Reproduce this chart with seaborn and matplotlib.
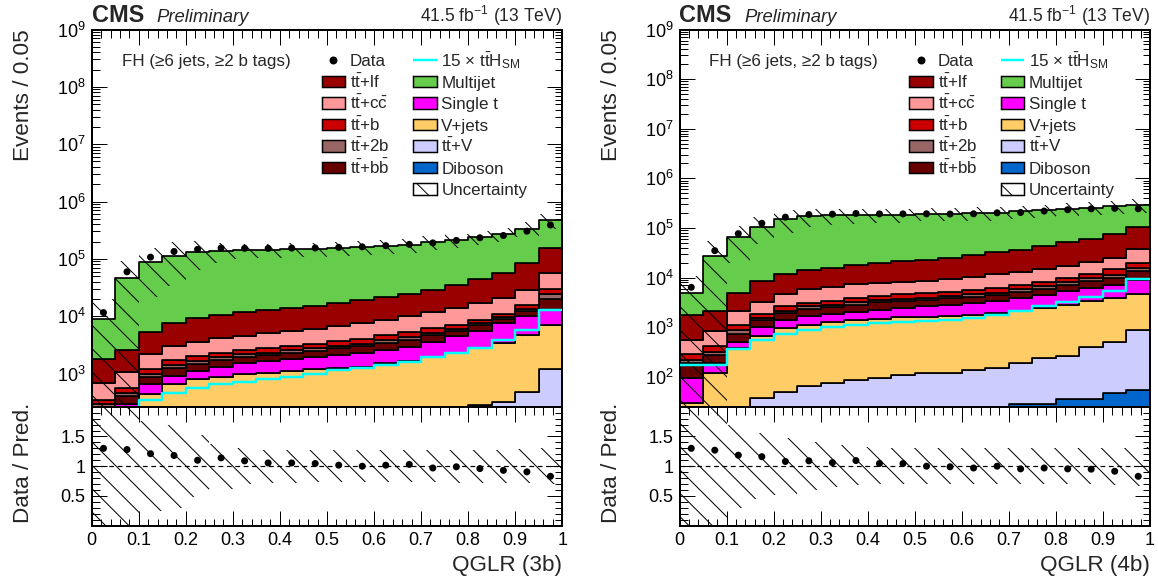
import numpy as np
import pandas as pd
import matplotlib
matplotlib.use("Agg")
import matplotlib.pyplot as plt
import seaborn as sns
from matplotlib.patches import Rectangle
from matplotlib.ticker import (FixedLocator, LogLocator, NullFormatter,
                               FuncFormatter, MultipleLocator)

# ---------------------------------------------------------------- data
bin_edges = [0.00, 0.05, 0.10, 0.15, 0.20, 0.25, 0.30, 0.35, 0.40, 0.45, 0.50,
             0.55, 0.60, 0.65, 0.70, 0.75, 0.80, 0.85, 0.90, 0.95, 1.00]

# ---- 3b category (events per bin)
multijet_3b = [7130, 43820, 83220, 106420, 123860, 125700, 128300, 131000, 132100, 132700,
               139000, 142500, 145300, 149200, 166800, 176800, 199300, 217900, 250300, 313000]
ttlf_3b = [1097, 1504, 3110, 4550, 5530, 6160, 7100, 7930, 8330, 9340,
           10190, 11920, 13020, 14870, 17500, 21300, 26700, 36300, 57300, 99900]
ttcc_3b = [330, 513, 970, 1300, 1580, 1820, 2020, 2300, 2540, 2660,
           3150, 3550, 4070, 4730, 5500, 6810, 8320, 9900, 12500, 26800]
ttb_3b = [53, 102, 200, 340, 374, 400, 420, 450, 490, 550,
          620, 710, 810, 900, 1020, 1020, 1160, 1240, 2300, 5500]
tt2b_3b = [40, 58, 120, 157, 176, 190, 210, 220, 240, 260,
           290, 340, 390, 430, 500, 520, 590, 620, 1150, 4850]
ttbb_3b = [120, 113, 234, 329, 370, 410, 440, 470, 530, 570,
           640, 720, 820, 920, 1070, 1120, 1300, 1460, 2520, 7050]
singlet_3b = [90, 170, 209, 249, 320, 440, 540, 600, 650, 720,
              850, 940, 1080, 1270, 1690, 2170, 2860, 4190, 5200, 5820]
vjets_3b = [30, 100, 407, 615, 740, 820, 900, 950, 1030, 1100,
            1145, 1190, 1360, 1505, 1720, 2020, 2490, 3070, 4250, 5900]
ttv_3b = [9, 19, 29, 39, 49, 58, 68, 78, 87, 97,
          111, 125, 144, 168, 192, 230, 268, 305, 460, 1150]
diboson_3b = [1, 1, 1, 1, 1, 2, 2, 2, 3, 3, 4, 5, 6, 7, 8, 10, 12, 15, 20, 30]
data_3b = [11570, 59390, 107100, 134500, 146300, 155000, 152600, 151900, 154000, 154700,
           158700, 162000, 169800, 179200, 190100, 209900, 233300, 255800, 304100, 390100]
tth15_3b = [100, 180, 343, 460, 550, 655, 720, 790, 880, 980,
            1150, 1230, 1410, 1610, 1920, 2260, 2840, 3770, 5800, 12600]
unc_3b = [1.2, 1.0, 0.76, 0.7, 0.52, 0.38, 0.3, 0.28, 0.28, 0.27,
          0.27, 0.27, 0.27, 0.27, 0.27, 0.28, 0.28, 0.28, 0.29, 0.30]

# ---- 4b category (events per bin)
multijet_4b = [3100, 25410, 59860, 98470, 141350, 156740, 163100, 161250, 164500, 162300,
               170200, 167600, 170600, 169900, 179200, 183500, 192700, 196100, 196200, 191000]
ttlf_4b = [1260, 1243, 2850, 5340, 7080, 8300, 9360, 10450, 11610, 13500,
           14100, 15900, 18000, 20500, 22800, 27800, 34100, 39100, 50400, 65400]
ttcc_4b = [248, 427, 970, 1310, 1920, 2870, 3090, 3510, 3660, 3630,
           3910, 4330, 4800, 5550, 5920, 6430, 7230, 8780, 10700, 17600]
ttb_4b = [73, 98, 232, 350, 490, 440, 590, 600, 720, 840,
          860, 920, 1010, 1090, 1270, 1590, 1860, 2360, 3200, 4500]
tt2b_4b = [25, 46, 151, 155, 220, 310, 290, 330, 320, 390,
           410, 450, 480, 510, 610, 750, 900, 1110, 1520, 2000]
ttbb_4b = [101, 90, 223, 365, 520, 630, 690, 800, 930, 890,
           870, 940, 1020, 1110, 1290, 1570, 1870, 2310, 3020, 4500]
singlet_4b = [63, 65, 137, 360, 460, 590, 630, 685, 800, 870,
              1070, 1200, 1350, 1400, 1750, 1910, 2480, 2900, 3050, 4400]
vjets_4b = [26, 113, 355, 612, 910, 1055, 1174, 1287, 1367, 1472,
            1463, 1539, 1603, 1792, 1973, 2214, 2597, 2932, 3396, 3712]
ttv_4b = [3, 7, 21, 36, 48, 62, 73, 84, 89, 103,
          111, 114, 129, 138, 159, 207, 228, 373, 466, 834]
diboson_4b = [1, 1, 1, 2, 2, 3, 3, 4, 4, 5, 6, 7, 8, 10, 28, 29, 35, 35, 48, 54]
data_4b = [6370, 34900, 76800, 124100, 165200, 186400, 189700, 196000, 192300, 192300,
           193000, 191100, 193000, 202000, 205300, 219200, 233000, 243200, 248900, 244000]
tth15_4b = [170, 170, 365, 556, 737, 888, 1010, 1120, 1210, 1280,
            1330, 1420, 1530, 1790, 2090, 2650, 3190, 4040, 5340, 9500]
unc_4b = [1.2, 1.0, 0.7, 0.55, 0.48, 0.4, 0.35, 0.32, 0.3, 0.3,
          0.3, 0.3, 0.3, 0.3, 0.3, 0.3, 0.3, 0.3, 0.31, 0.33]

# stack order: top -> bottom
process_names = ["Multijet", "tt+lf", "tt+cc", "tt+b", "tt+2b", "tt+bb",
                 "Single t", "V+jets", "tt+V", "Diboson"]
process_colors = {"Multijet": "#66CC4C", "tt+lf": "#990000", "tt+cc": "#FF9999",
                  "tt+b": "#CC0000", "tt+2b": "#996666", "tt+bb": "#660000",
                  "Single t": "#FF00FF", "V+jets": "#FFCC66", "tt+V": "#CCCCFF",
                  "Diboson": "#0066CC"}
TTBAR = r"$\mathrm{t\bar{t}}$"
legend_labels = {"tt+lf": TTBAR + "+lf", "tt+cc": TTBAR + r"+$\mathrm{c\bar{c}}$",
                 "tt+b": TTBAR + "+b", "tt+2b": TTBAR + "+2b",
                 "tt+bb": TTBAR + r"+$\mathrm{b\bar{b}}$",
                 "Multijet": "Multijet", "Single t": "Single t", "V+jets": "V+jets",
                 "tt+V": TTBAR + "+V", "Diboson": "Diboson"}
tth_label = "15 \u00d7 " + r"$\mathrm{t\bar{t}H_{SM}}$"

comps_3b = dict(zip(process_names, [multijet_3b, ttlf_3b, ttcc_3b, ttb_3b, tt2b_3b,
                                    ttbb_3b, singlet_3b, vjets_3b, ttv_3b, diboson_3b]))
comps_4b = dict(zip(process_names, [multijet_4b, ttlf_4b, ttcc_4b, ttb_4b, tt2b_4b,
                                    ttbb_4b, singlet_4b, vjets_4b, ttv_4b, diboson_4b]))

# ---------------------------------------------------------------- style
DPI = 140
W, H = 1158, 581
PT = 72.0 / DPI
HATCH = "\\\\"


def px(v):
    return v * PT


sns.set_theme(style="ticks")
plt.rcParams["font.family"] = ["Liberation Sans", "DejaVu Sans"]
plt.rcParams["mathtext.fontset"] = "custom"
plt.rcParams["mathtext.rm"] = "Liberation Sans"
plt.rcParams["mathtext.it"] = "Liberation Sans:italic"
plt.rcParams["mathtext.bf"] = "Liberation Sans:bold"
plt.rcParams["mathtext.sf"] = "Liberation Sans"
plt.rcParams["hatch.linewidth"] = px(1.0)
plt.rcParams["hatch.color"] = "black"
plt.rcParams["axes.linewidth"] = px(2.0)
plt.rcParams["axes.edgecolor"] = "black"

fig = plt.figure(figsize=(W / DPI, H / DPI), dpi=DPI)

AXW = 470.5
TOP_T, TOP_B, RAT_B = 29.5, 406.7, 525.7
AXH = TOP_B - TOP_T
RATH = RAT_B - TOP_B


def make_axes(left_px):
    ax = fig.add_axes([left_px / W, (H - TOP_B) / H, AXW / W, AXH / H])
    axr = fig.add_axes([left_px / W, (H - RAT_B) / H, AXW / W, RATH / H])
    return ax, axr


def style_ticks(ax):
    ax.tick_params(axis="both", which="both", direction="in", top=True, right=True,
                   colors="black", width=px(1.0), labelsize=px(18), pad=px(6))
    ax.tick_params(axis="both", which="major", length=px(15))
    ax.tick_params(axis="both", which="minor", length=px(7.5))
    for s in ax.spines.values():
        s.set_linewidth(px(2.0))
        s.set_color("black")


def draw_legend(ax):
    bw, bh = 23.5 / AXW, 11.5 / AXH
    row = 21.5 / AXH
    y0 = 0.9191
    base_off = 6.2 / AXH
    c1_box, c1_txt = (321.5 - 91.7) / AXW, 0.5484
    c2_box, c2_txt = 0.6830, 0.7430
    fs = px(17)
    ax.text(0.0636, y0 - base_off, "FH (\u22656 jets, \u22652 b tags)", transform=ax.transAxes,
            fontsize=fs, va="baseline", ha="left")
    # column 1
    ax.plot([0.5129], [y0], "o", color="black", ms=px(6), transform=ax.transAxes,
            clip_on=False)
    ax.text(c1_txt, y0 - base_off, "Data", transform=ax.transAxes, fontsize=fs,
            va="baseline")
    for i, name in enumerate(["tt+lf", "tt+cc", "tt+b", "tt+2b", "tt+bb"]):
        yc = y0 - (i + 1) * row
        ax.add_patch(Rectangle((c1_box, yc - bh / 2), bw, bh, transform=ax.transAxes,
                               facecolor=process_colors[name], edgecolor="black",
                               linewidth=px(1.5), clip_on=False))
        ax.text(c1_txt, yc - base_off, legend_labels[name], transform=ax.transAxes,
                fontsize=fs, va="baseline")
    # column 2
    ax.plot([c2_box, c2_box + bw], [y0, y0], color="#00FFFF", lw=px(2.5),
            transform=ax.transAxes, clip_on=False, solid_capstyle="butt")
    ax.text(c2_txt, y0 - base_off, tth_label, transform=ax.transAxes, fontsize=fs,
            va="baseline")
    for i, name in enumerate(["Multijet", "Single t", "V+jets", "tt+V", "Diboson"]):
        yc = y0 - (i + 1) * row
        ax.add_patch(Rectangle((c2_box, yc - bh / 2), bw, bh, transform=ax.transAxes,
                               facecolor=process_colors[name], edgecolor="black",
                               linewidth=px(1.5), clip_on=False))
        ax.text(c2_txt, yc - base_off, legend_labels[name], transform=ax.transAxes,
                fontsize=fs, va="baseline")
    yc = y0 - 6 * row
    ax.add_patch(Rectangle((c2_box, yc - bh / 2), bw, bh, transform=ax.transAxes,
                           facecolor="white", edgecolor="black", hatch=HATCH,
                           linewidth=px(1.5), clip_on=False))
    ax.text(c2_txt, yc - base_off, "Uncertainty", transform=ax.transAxes, fontsize=fs,
            va="baseline")


def draw_panel(left_px, comps, data, tth, unc, ymin, xlabel):
    ax, axr = make_axes(left_px)
    edges = np.array(bin_edges)
    centers = 0.5 * (edges[:-1] + edges[1:])

    df = pd.DataFrame({
        "x": np.tile(centers, len(process_names)),
        "w": np.concatenate([comps[p] for p in process_names]),
        "process": np.repeat(process_names, len(centers)),
    })
    sns.histplot(data=df, x="x", weights="w", hue="process", hue_order=process_names,
                 palette=process_colors, multiple="stack", bins=bin_edges,
                 element="step", alpha=1, edgecolor="black", linewidth=px(1.7),
                 legend=False, ax=ax, zorder=1)

    total = np.sum([np.asarray(comps[p], float) for p in process_names], axis=0)
    unc = np.asarray(unc, float)

    # uncertainty band on top of the stack
    lo = np.clip(total * (1 - unc), 1e-3, None)
    hi = total * (1 + unc)
    ax.fill_between(edges, np.append(lo, lo[-1]), np.append(hi, hi[-1]), step="post",
                    facecolor="none", edgecolor="black", hatch=HATCH, linewidth=0, zorder=3)

    # 15 x ttH line
    sns.histplot(x=centers, weights=tth, bins=bin_edges, element="step", fill=False,
                 color="#00FFFF", linewidth=px(2.5), ax=ax, zorder=4)

    # data points
    sns.scatterplot(x=centers, y=data, color="black", s=px(7) ** 2, edgecolor="none",
                    ax=ax, zorder=5, legend=False)

    ax.set_yscale("log")
    ax.set_xlim(0, 1)
    ax.set_ylim(ymin, 1e9)
    ax.set_xlabel("")
    ax.xaxis.set_major_locator(MultipleLocator(0.1))
    ax.xaxis.set_minor_locator(MultipleLocator(0.02))
    ax.yaxis.set_major_locator(LogLocator(base=10, numticks=30))
    ax.yaxis.set_minor_locator(LogLocator(base=10, subs=np.arange(2, 10) * 1.0, numticks=200))
    ax.yaxis.set_minor_formatter(NullFormatter())
    style_ticks(ax)
    ax.tick_params(axis="x", labelbottom=False)
    ax.set_ylabel("Events / 0.05", loc="top", fontsize=px(22.5))
    ax.yaxis.set_label_coords(-0.1226, 1.0)

    # header
    ax.text(0.0, 1.0207, "CMS", transform=ax.transAxes, fontsize=px(23.5),
            fontweight="bold", va="baseline", ha="left")
    ax.text(0.137, 1.0207, "Preliminary", transform=ax.transAxes, fontsize=px(18.5),
            fontstyle="italic", va="baseline", ha="left")
    ax.text(1.0, 1.0207, r"41.5 fb$^{-1}$ (13 TeV)", transform=ax.transAxes,
            fontsize=px(17.5), va="baseline", ha="right")
    draw_legend(ax)

    # ---- ratio panel
    axr.fill_between(edges, np.append(1 - unc, 1 - unc[-1]), np.append(1 + unc, 1 + unc[-1]),
                     step="post", facecolor="none", edgecolor="black", hatch=HATCH,
                     linewidth=0, zorder=1)
    axr.axhline(1.0, color="black", lw=px(1.2), ls=(0, (4, 3)), zorder=2)
    sns.scatterplot(x=centers, y=np.asarray(data, float) / total, color="black",
                    s=px(7) ** 2, edgecolor="none", ax=axr, zorder=5, legend=False)
    axr.set_xlim(0, 1)
    axr.set_ylim(0, 2)
    axr.xaxis.set_major_locator(MultipleLocator(0.1))
    axr.xaxis.set_minor_locator(MultipleLocator(0.02))
    axr.xaxis.set_major_formatter(FuncFormatter(lambda v, p: f"{v:g}"))
    axr.yaxis.set_major_locator(FixedLocator([0.5, 1.0, 1.5]))
    axr.yaxis.set_minor_locator(FixedLocator([0.1, 0.2, 0.3, 0.4, 0.6, 0.7, 0.8, 0.9,
                                              1.1, 1.2, 1.3, 1.4, 1.6, 1.7, 1.8, 1.9]))
    axr.yaxis.set_major_formatter(FuncFormatter(lambda v, p: f"{v:g}"))
    style_ticks(axr)
    axr.set_ylabel("Data / Pred.", fontsize=px(22.5))
    axr.yaxis.set_label_coords(-0.1226, 0.53)
    axr.set_xlabel(xlabel, loc="right", fontsize=px(22.5))
    axr.xaxis.set_label_coords(1.0, -0.25)
    return ax, axr


draw_panel(91.7, comps_3b, data_3b, tth15_3b, unc_3b, 264, "QGLR (3b)")
draw_panel(679.5, comps_4b, data_4b, tth15_4b, unc_4b, 25, "QGLR (4b)")

fig.savefig("out.png", dpi=DPI, facecolor="white")
